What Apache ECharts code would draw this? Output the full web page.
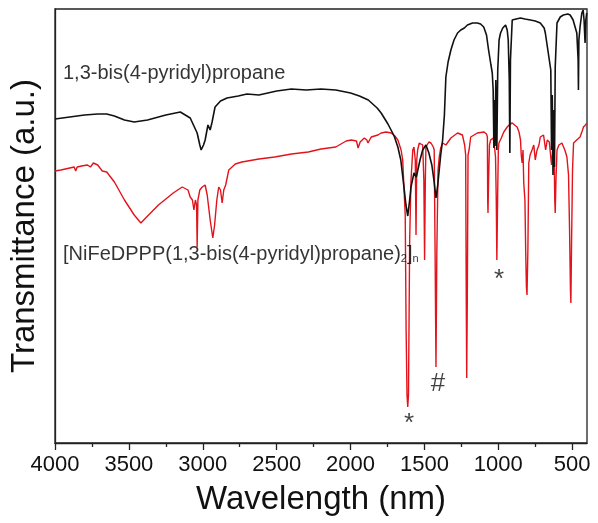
<!DOCTYPE html>
<html>
<head>
<meta charset="utf-8">
<script src="https://cdn.jsdelivr.net/npm/echarts@6/dist/echarts.min.js"></script>
<style>html,body{margin:0;padding:0;background:#fff}#c{width:598px;height:523px}</style>
</head>
<body>
<div id="c"></div>
<script>
// tick labels
const majorTicks = [500, 1000, 1500, 2000, 2500, 3000, 3500, 4000];
const minorTicks = [750, 1250, 1750, 2250, 2750, 3250, 3750];

// 1,3-bis(4-pyridyl)propane spectrum [wavenumber, transmittance a.u.]
const ligandSpectrum = [
[4000,324],[3900,326],[3800,328],[3711,329],[3650,329],[3598,327],[3530,323],[3464,321],[3374,323],[3250,328],
[3152,331],[3085,325],[3038,310],[3020,298],[3011,293],[2995,298],[2984,303],[2965,318],[2959,320],[2950,313],
[2937,321],[2917,336],[2880,342],[2836,345],[2760,347],[2701,349],[2620,348],[2560,350],[2500,352],[2400,354],
[2300,353],[2200,354],[2100,353],[2000,350],[1940,347],[1880,343],[1820,335],[1793,330],[1747,319],[1705,307],
[1680,296],[1660,283],[1638,255],[1625,238],[1613,227],[1600,243],[1591,256],[1571,270],[1555,266],[1546,268],
[1530,283],[1512,293],[1490,298],[1470,290],[1450,278],[1436,263],[1422,245],[1410,258],[1402,270],[1390,288],
[1377,303],[1365,328],[1355,366],[1340,381],[1321,393],[1300,403],[1276,410],[1254,413],[1230,415],[1209,418],
[1175,420],[1142,420],[1120,419],[1099,416],[1080,408],[1066,393],[1050,378],[1041,370],[1035,353],[1030,295],
[1026,343],[1022,297],[1017,363],[1010,293],[1004,373],[995,403],[985,410],[970,415],[951,418],[940,413],
[933,403],[926,363],[922,290],[918,383],[906,423],[880,424],[850,425],[820,424],[783,423],[750,422],
[716,420],[690,415],[682,410],[662,390],[645,373],[640,293],[635,348],[630,268],[625,333],[620,276],
[615,376],[603,420],[581,426],[560,428],[530,429],[514,428],[494,423],[469,410],[460,383],[458,353],
[455,403],[447,416],[435,430],[426,433],[420,423],[413,400],[408,423],[402,430]
];

// [NiFeDPPP(1,3-bis(4-pyridyl)propane)2]n spectrum [wavenumber, transmittance a.u.]
const complexSpectrum = [
[4000,272],[3960,273],[3900,275],[3870,276],[3860,272],[3850,276],[3820,277],[3780,278],[3760,276],[3740,280],
[3711,278],[3680,272],[3650,271],[3598,261],[3530,243],[3464,228],[3419,220],[3380,226],[3300,238],[3200,250],
[3139,256],[3100,253],[3085,246],[3070,243],[3060,233],[3050,243],[3042,238],[3038,196],[3033,243],[3020,253],
[3004,256],[2984,258],[2970,248],[2950,223],[2932,205],[2920,218],[2905,243],[2892,256],[2880,253],[2869,240],
[2858,253],[2845,258],[2824,273],[2780,279],[2735,281],[2620,284],[2513,286],[2400,289],[2286,291],[2200,294],
[2100,296],[2030,302],[1995,303],[1960,302],[1949,295],[1935,301],[1907,305],[1890,303],[1882,300],[1860,306],
[1815,308],[1793,310],[1760,311],[1725,310],[1700,307],[1680,303],[1658,293],[1647,283],[1638,253],[1630,228],
[1624,113],[1618,48],[1613,36],[1608,48],[1600,203],[1591,263],[1579,293],[1571,296],[1562,283],[1557,208],
[1552,283],[1546,293],[1535,300],[1523,301],[1512,298],[1504,263],[1499,183],[1494,263],[1490,296],[1470,301],
[1456,300],[1440,296],[1434,293],[1428,193],[1422,76],[1416,193],[1408,273],[1400,286],[1390,295],[1377,300],
[1355,298],[1321,305],[1276,310],[1243,308],[1228,298],[1221,288],[1217,143],[1214,65],[1210,143],[1205,288],
[1198,293],[1187,306],[1142,310],[1097,311],[1080,309],[1074,306],[1072,243],[1070,230],[1066,263],[1060,298],
[1052,303],[1035,305],[1025,295],[1019,286],[1014,243],[1010,183],[1005,243],[1000,293],[996,300],[980,305],
[963,311],[940,316],[920,319],[906,320],[890,318],[873,316],[860,311],[850,303],[845,288],[839,280],
[833,293],[828,260],[820,243],[815,193],[810,156],[806,148],[800,193],[794,280],[785,288],[772,293],
[760,298],[750,283],[738,293],[725,298],[716,306],[694,308],[680,293],[669,303],[655,301],[640,278],
[630,298],[622,283],[618,243],[615,230],[610,263],[603,293],[590,298],[570,300],[550,293],[536,286],
[525,268],[518,213],[512,153],[509,140],[505,193],[498,273],[491,300],[470,303],[447,306],[430,313],
[424,316],[410,318],[402,320]
];

// annotation texts and anchors (data coordinates)
const seriesLabels = ['1,3-bis(4-pyridyl)propane', '[NiFeDPPP(1,3-bis(4-pyridyl)propane){sub|2}]{sub|n}'];
const seriesLabelAnchors = [[3946, 370], [3946, 189]];
const peakMarks = ['*', '#', '*'];
const peakMarkAnchors = [[1604, 19], [1409, 59], [995, 163]];

const FONT = 'Liberation Sans, Arial, sans-serif';
const chart = echarts.init(document.getElementById('c'));

const axisCommon = {
  type: 'value', inverse: true, min: 400, max: 4000,
  splitLine: {show: false}
};

chart.setOption({
  animation: false,
  backgroundColor: '#fff',
  grid: {left: 52, right: 11, top: 9, bottom: 80, show: true, borderColor: '#222', borderWidth: 1.3},
  xAxis: [
    Object.assign({}, axisCommon, {
      position: 'bottom',
      name: 'Wavelength (nm)', nameLocation: 'middle', nameGap: 40,
      nameTextStyle: {fontSize: 33, color: '#111', fontFamily: FONT},
      axisLine: {show: true, lineStyle: {color: '#222', width: 1.3}},
      axisTick: {show: true, inside: false, length: 7, lineStyle: {color: '#222', width: 1.3}, customValues: majorTicks},
      axisLabel: {show: true, fontSize: 22, color: '#111', fontFamily: FONT, margin: 11, customValues: majorTicks,
        formatter: v => String(v)}
    }),
    Object.assign({}, axisCommon, {
      position: 'bottom', offset: 0,
      axisLine: {show: false},
      axisTick: {show: true, inside: false, length: 4, lineStyle: {color: '#222', width: 1.3}, customValues: minorTicks},
      axisLabel: {show: false}
    })
  ],
  yAxis: {
    type: 'value', min: 0, max: 434,
    name: 'Transmittance (a.u.)', nameLocation: 'middle', nameGap: 14,
    nameTextStyle: {fontSize: 33, color: '#111', fontFamily: FONT},
    axisLine: {show: true, lineStyle: {color: '#222', width: 1.3}},
    axisTick: {show: false}, axisLabel: {show: false}, splitLine: {show: false}
  },
  series: [
    {type: 'line', data: ligandSpectrum, showSymbol: false, symbol: 'none',
     lineStyle: {color: '#111', width: 1.6}, z: 3},
    {type: 'line', data: complexSpectrum, showSymbol: false, symbol: 'none',
     lineStyle: {color: '#e3131b', width: 1.4}, z: 2},
    {type: 'scatter', symbolSize: 0.1, itemStyle: {color: 'rgba(0,0,0,0)'}, silent: true, z: 5,
     data: seriesLabelAnchors.map((p, i) => ({value: p, name: seriesLabels[i]})),
     label: {show: true, position: 'inside', align: 'left', verticalAlign: 'middle',
       formatter: p => p.name, fontSize: 20, color: '#000', textBorderWidth: 0, fontFamily: FONT,
       rich: {sub: {fontSize: 11, color: '#000', textBorderWidth: 0, fontFamily: FONT, verticalAlign: 'bottom'}}}},
    {type: 'scatter', symbolSize: 0.1, itemStyle: {color: 'rgba(0,0,0,0)'}, silent: true, z: 5,
     data: peakMarkAnchors.map((p, i) => ({value: p, name: peakMarks[i]})),
     label: {show: true, position: 'inside', align: 'center', verticalAlign: 'middle',
       formatter: p => p.name, fontSize: 26, color: '#111', textBorderWidth: 0, fontFamily: FONT}}
  ]
});
</script>
</body>
</html>
